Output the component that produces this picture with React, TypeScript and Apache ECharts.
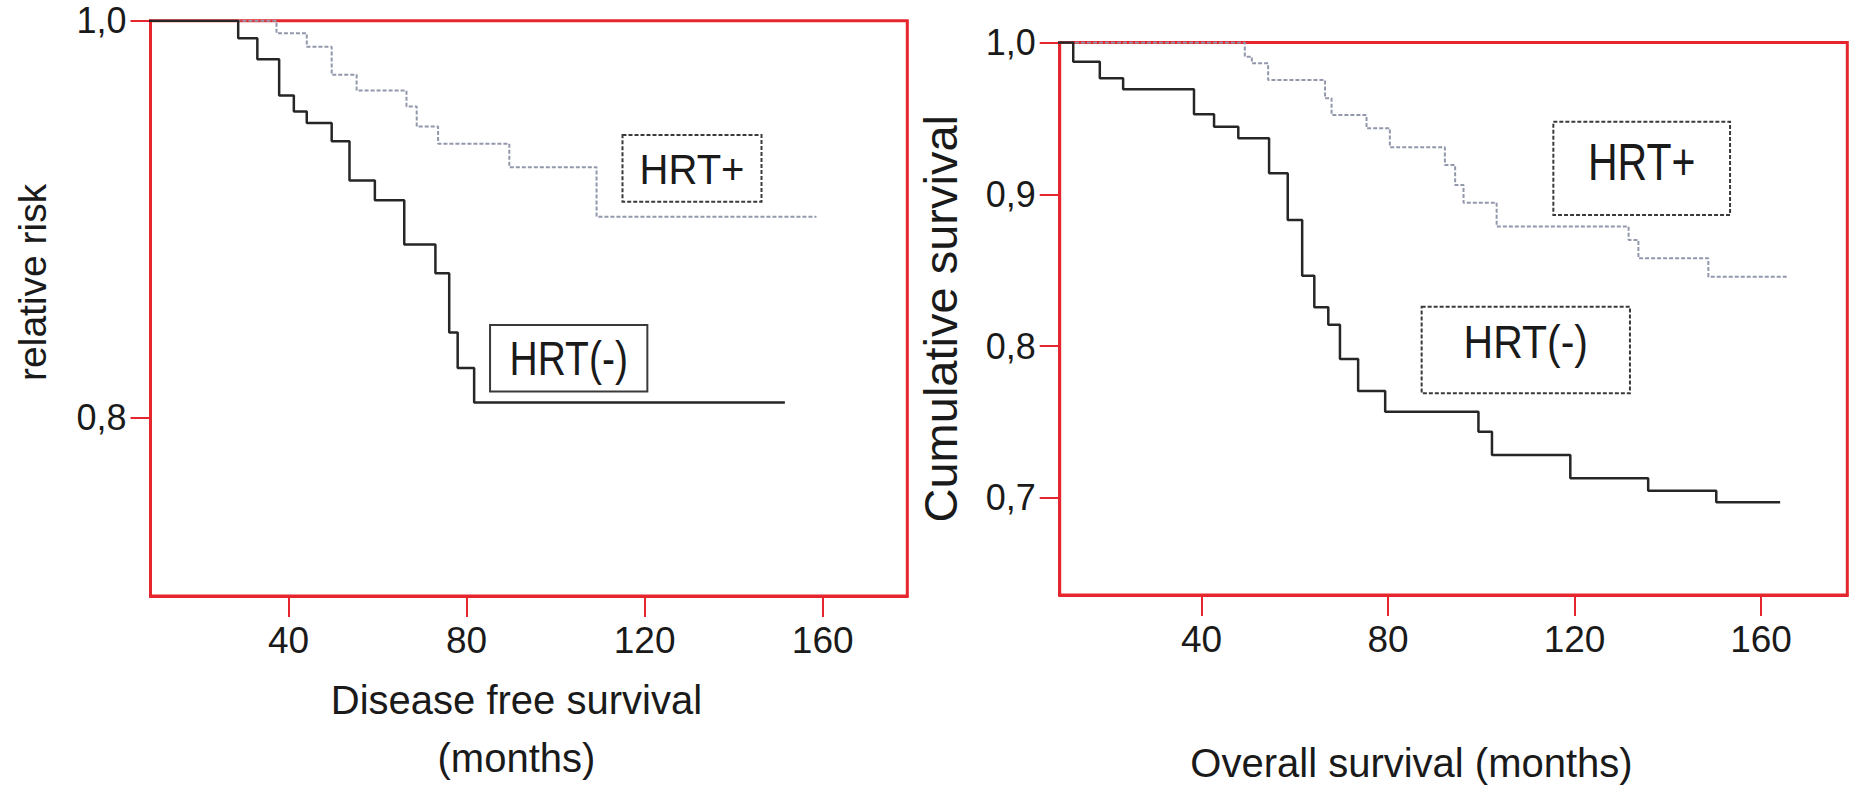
import React, { useEffect, useRef } from "react";
import * as echarts from "echarts";

// ---------- DATA ----------
// Left panel: Disease free survival (months) vs relative risk
const dfsNegTime = [0, 28.7, 33.0, 37.9, 41.2, 44.1, 49.7, 53.7, 59.4, 66.0, 73.0, 76.1, 78.0, 81.7, 151.5];
const dfsNegSurv = [1.0, 0.9912, 0.9806, 0.9623, 0.9542, 0.9484, 0.9392, 0.9194, 0.9095, 0.8872, 0.8727, 0.8428, 0.8249, 0.8076, 0.8076];
const dfsPosTime = [0, 37.3, 44.1, 49.7, 55.3, 66.5, 68.8, 73.6, 89.6, 109.2, 158.6];
const dfsPosSurv = [1.0, 0.9937, 0.9869, 0.9727, 0.9648, 0.9568, 0.9467, 0.938, 0.9261, 0.9012, 0.9012];

// Right panel: Overall survival (months) vs cumulative survival
const osNegTime = [0, 12.5, 18.2, 23.2, 38.4, 42.7, 47.9, 54.5, 58.5, 61.6, 64.2, 67.2, 69.7, 73.6, 79.4, 99.4, 102.3, 119.1, 135.8, 150.4, 164.1];
const osNegSurv = [1.0, 0.9874, 0.9764, 0.9692, 0.9527, 0.9445, 0.9369, 0.9138, 0.8831, 0.8464, 0.8256, 0.8141, 0.7915, 0.7704, 0.7568, 0.7436, 0.7283, 0.7129, 0.7047, 0.6971, 0.6971];
const osPosTime = [0, 49.3, 50.8, 54.3, 66.5, 67.9, 75.4, 80.4, 92.2, 94.4, 96.2, 103.3, 131.6, 133.7, 148.7, 165.5];
const osPosSurv = [1.0, 0.9906, 0.9863, 0.9753, 0.9632, 0.9522, 0.9435, 0.931, 0.9193, 0.9061, 0.8945, 0.8787, 0.8699, 0.8578, 0.8457, 0.8457];

const xTickValues = [40, 80, 120, 160];
const dfsYTicks = [0.8, 1.0];
const osYTicks = [0.7, 0.8, 0.9, 1.0];

const seriesNames = ["HRT(-)", "HRT+"];
const leftTitles = { x: "Disease free survival\n(months)", y: "relative risk" };
const rightTitles = { x: "Overall survival (months)", y: "Cumulative survival" };

// ---------- STYLE ----------
const RED = "#e5262e";
const TEXT = "#1a1a1a";
const FONT = "'Liberation Sans', Arial, Helvetica, sans-serif";
const DARK_LINE = "#262626";
const LIGHT_LINE = "#9298ab";

const zip = (t: number[], s: number[]) => t.map((v, i) => [v, s[i]]);
const fmtComma = (v: number) => v.toFixed(1).replace(".", ",");

function xAxis(gridIndex: number, min: number, max: number, name: string, nameGap: number, padRight: number, lineHeight: number) {
  return {
    type: "value",
    gridIndex,
    min,
    max,
    name,
    nameLocation: "middle",
    nameGap,
    nameTextStyle: { color: TEXT, fontSize: 40, fontFamily: FONT, lineHeight, padding: [0, padRight, 0, 0] },
    axisLine: { show: true, onZero: false, lineStyle: { color: RED, width: 3 } },
    axisTick: { show: true, customValues: xTickValues, length: 21, lineStyle: { color: RED, width: 2 } },
    axisLabel: { show: true, customValues: xTickValues, margin: 26, color: TEXT, fontSize: 37, fontFamily: FONT },
    splitLine: { show: false },
  };
}

function yAxis(gridIndex: number, min: number, max: number, ticks: number[], name: string, nameGap: number, namePad: number[], nameSize: number, labelPad: number[]) {
  return {
    type: "value",
    gridIndex,
    min,
    max,
    name,
    nameLocation: "middle",
    nameRotate: 90,
    nameGap,
    nameTextStyle: { color: TEXT, fontSize: nameSize, fontFamily: FONT, padding: namePad },
    axisLine: { show: true, onZero: false, lineStyle: { color: RED, width: 3 } },
    axisTick: { show: true, customValues: ticks, length: 20, lineStyle: { color: RED, width: 2 } },
    axisLabel: { show: true, customValues: ticks, margin: 24, color: TEXT, fontSize: 36, fontFamily: FONT, padding: labelPad, formatter: (v: number) => fmtComma(v) },
    splitLine: { show: false },
  };
}

function stepSeries(name: string, xi: number, data: number[][], color: string, dashed: boolean) {
  return {
    type: "line",
    name,
    xAxisIndex: xi,
    yAxisIndex: xi,
    step: "end",
    data,
    showSymbol: false,
    symbol: "none",
    clip: true,
    lineStyle: { color, width: dashed ? 2 : 2.5, type: dashed ? [4, 2] : "solid" },
    z: 3,
  };
}

function labelBox(cx: number, cy: number, w: number, h: number, textCy: number, text: string, fontSize: number, scaleY: number, dashed: boolean) {
  return {
    type: "group",
    children: [
      {
        type: "rect",
        shape: { x: cx - w / 2, y: cy - h / 2, width: w, height: h },
        style: { fill: "#fff", stroke: "#3a3a3a", lineWidth: 2, lineDash: dashed ? [4, 2] : null },
      },
      {
        type: "text",
        x: cx,
        y: textCy,
        scaleY,
        style: { text, fill: TEXT, fontSize, fontFamily: FONT, align: "center", verticalAlign: "middle" },
      },
    ],
  };
}

export default function App() {
  const ref = useRef<HTMLDivElement>(null);
  useEffect(() => {
    if (!ref.current) return;
    const chart = echarts.init(ref.current, null, { renderer: "svg" });
    const option = {
      animation: false,
      backgroundColor: "#ffffff",
      grid: [
        { left: 150.5, top: 20.7, width: 756.8, height: 576.3, show: true, borderColor: RED, borderWidth: 3, backgroundColor: "transparent" },
        { left: 1059.7, top: 42.5, width: 787.6, height: 552.5, show: true, borderColor: RED, borderWidth: 3, backgroundColor: "transparent" },
      ],
      xAxis: [
        xAxis(0, 9, 179, leftTitles.x, 75, 25, 58),
        xAxis(1, 9.6, 178.5, rightTitles.x, 146, 84, 44),
      ],
      yAxis: [
        yAxis(0, 0.71, 1.0, dfsYTicks, leftTitles.y, 99, [0, 0, 0, 52], 39, [0, 0, 0, 0]),
        yAxis(1, 0.636, 1.0, osYTicks, rightTitles.y, 96, [0, 0, 0, 0], 47, [20, 0, 0, 0]),
      ],
      series: [
        stepSeries(seriesNames[1], 0, zip(dfsPosTime, dfsPosSurv), LIGHT_LINE, true),
        stepSeries(seriesNames[0], 0, zip(dfsNegTime, dfsNegSurv), DARK_LINE, false),
        stepSeries(seriesNames[1], 1, zip(osPosTime, osPosSurv), LIGHT_LINE, true),
        stepSeries(seriesNames[0], 1, zip(osNegTime, osNegSurv), DARK_LINE, false),
      ],
      graphic: [
        labelBox(692, 168.3, 139, 66.7, 170, seriesNames[1], 40, 1.05, true),
        labelBox(568.7, 358.3, 157.3, 66.5, 358, seriesNames[0], 39, 1.25, false),
        labelBox(1641.7, 168.3, 176.7, 93.3, 162, seriesNames[1], 41, 1.25, true),
        labelBox(1525.8, 350, 208.3, 86.6, 342, seriesNames[0], 41, 1.12, true),
      ],
    };
    chart.setOption(option as any);
    return () => chart.dispose();
  }, []);
  return (
    <div
      ref={ref}
      style={{ position: "fixed", left: 0, top: 0, width: 1849, height: 792, background: "#fff" }}
    />
  );
}
